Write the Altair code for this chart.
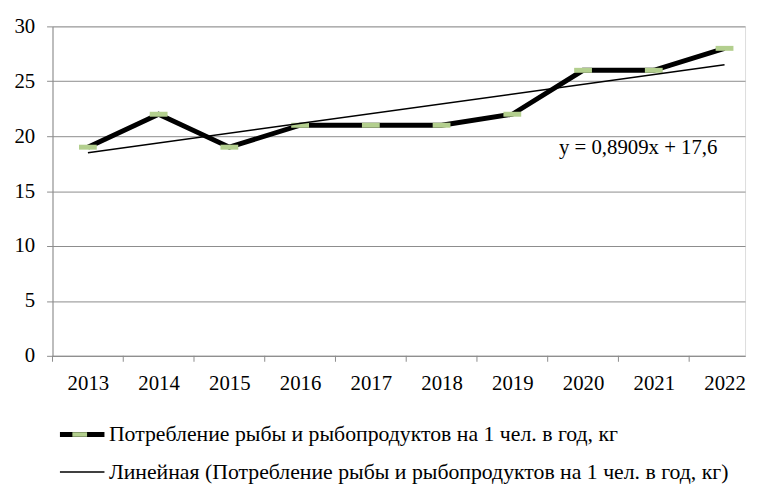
import altair as alt
import pandas as pd

years = [2013, 2014, 2015, 2016, 2017, 2018, 2019, 2020, 2021, 2022]
consumption = [19, 22, 19, 21, 21, 21, 22, 26, 26, 28]
series_main = "Потребление рыбы и рыбопродуктов на 1 чел. в год, кг"
series_trend = "Линейная (Потребление рыбы и рыбопродуктов на 1 чел. в год, кг)"
equation_text = "y = 0,8909x + 17,6"
y_ticks = [0, 5, 10, 15, 20, 25, 30]

df = pd.DataFrame({"year": years, "value": consumption})
ann = pd.DataFrame({"x": [2019.66], "y": [18.9], "label": [equation_text]})

FONT = "Liberation Serif"
GRAY = "#8c8c8c"
GREEN = "#b3cf8e"

xscale = alt.Scale(domain=[2012.5, 2022.29], nice=False, zero=False)
yscale = alt.Scale(domain=[0, 30], nice=False)

legend_scale_stroke = alt.Scale(domain=[series_main, series_trend], range=["black", "black"])
legend_scale_width = alt.Scale(domain=[series_main, series_trend], range=[5, 1.5])

legend = alt.Legend(
    title=None, orient="none", legendX=5, legendY=402, direction="vertical",
    symbolType="stroke", symbolSize=2025, labelFont=FONT, labelFontSize=22,
    labelColor="black", labelLimit=0, labelOffset=2, rowPadding=15, clipHeight=21,
)

marker_legend = alt.Legend(
    title=None, orient="none", legendX=5, legendY=402, direction="vertical",
    symbolType="M-0.33,-0.1L0.33,-0.1L0.33,0.1L-0.33,0.1Z", symbolSize=2025,
    symbolStrokeWidth=0, symbolOpacity=1, labelFont=FONT, labelFontSize=22,
    labelExpr="''", labelOffset=2, clipHeight=21,
)

base = alt.Chart(df)

xaxis = alt.Axis(values=years, format="d", ticks=False, grid=False, labelFont=FONT,
                 labelFontSize=21, labelColor="black", labelPadding=17, domainColor=GRAY,
                 title=None)
yaxis = alt.Axis(values=y_ticks, tickSize=6, tickColor=GRAY, domainColor=GRAY, gridColor=GRAY,
                 labelFont=FONT, labelFontSize=21, labelColor="black", labelPadding=12,
                 title=None)

main_line = base.transform_calculate(series=f"'{series_main}'").mark_line().encode(
    x=alt.X("year:Q", scale=xscale, axis=xaxis),
    y=alt.Y("value:Q", scale=yscale, axis=yaxis),
    stroke=alt.Stroke("series:N", scale=legend_scale_stroke, legend=legend),
    strokeWidth=alt.StrokeWidth("series:N", scale=legend_scale_width, legend=legend),
)

trend = base.transform_regression("year", "value").transform_calculate(
    series=f"'{series_trend}'"
).mark_line().encode(
    x=alt.X("year:Q", scale=xscale),
    y=alt.Y("value:Q", scale=yscale),
    stroke=alt.Stroke("series:N", scale=legend_scale_stroke, legend=legend),
    strokeWidth=alt.StrokeWidth("series:N", scale=legend_scale_width, legend=legend),
)

markers = base.transform_calculate(marker="'m'").mark_tick(
    orient="horizontal", size=18, thickness=5, opacity=1
).encode(
    x=alt.X("year:Q", scale=xscale),
    y=alt.Y("value:Q", scale=yscale),
    fill=alt.Fill("marker:N", scale=alt.Scale(range=[GREEN]), legend=marker_legend),
)

edge_ticks = base.transform_calculate(edge="datum.year - 0.5").mark_rule(color=GRAY).encode(
    x=alt.X("edge:Q", scale=xscale),
    y=alt.value(333),
    y2=alt.value(339),
)

annotation = alt.Chart(ann).mark_text(align="left", baseline="middle", font=FONT, fontSize=21,
                                      color="black").encode(
    x=alt.X("x:Q", scale=xscale),
    y=alt.Y("y:Q", scale=yscale),
    text="label:N",
)

chart = alt.layer(main_line, markers, trend, edge_ticks, annotation).properties(
    width=700, height=333,
    autosize=alt.AutoSizeParams(type="none"),
    padding={"left": 45, "top": 16, "right": 4, "bottom": 129},
).configure_view(stroke=None).configure(background="white")

chart.save("out.html", embed_options={"renderer": "svg", "actions": False})
